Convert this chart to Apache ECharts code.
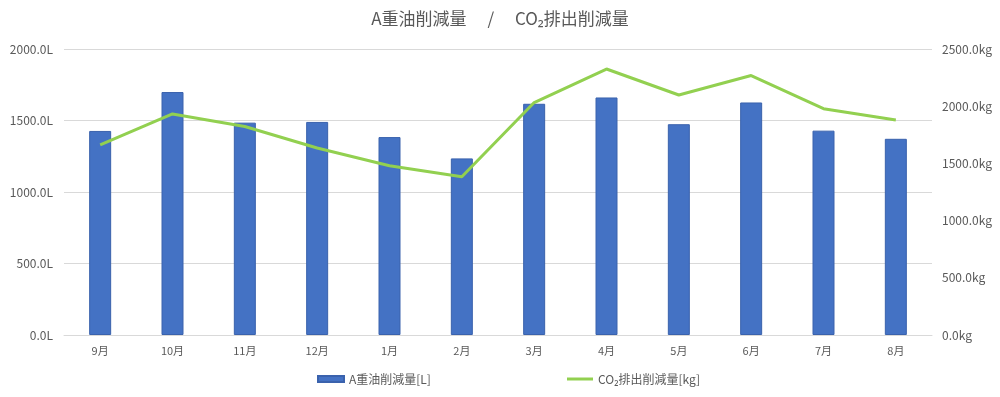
<!DOCTYPE html>
<html><head><meta charset="utf-8">
<script src="https://cdn.jsdelivr.net/npm/echarts@6/dist/echarts.min.js"></script>
<style>html,body{margin:0;padding:0;background:#fff}#c{width:1000px;height:397px}</style>
</head><body><div id="c"></div>
<script>
const categories = ['9月','10月','11月','12月','1月','2月','3月','4月','5月','6月','7月','8月'];
const oilValues = [1427, 1699, 1485, 1490, 1384, 1235, 1617, 1661, 1474, 1626, 1429, 1372];
const co2Values = [1661, 1932, 1823, 1635, 1480, 1383, 2032, 2325, 2098, 2268, 1978, 1879];
const oilName = 'A重油削減量[L]';
const co2Name = 'CO₂排出削減量[kg]';
const titleText = 'A重油削減量　 /　 CO₂排出削減量';
const font = '"Noto Sans CJK JP", "Noto Sans", sans-serif';
const chart = echarts.init(document.getElementById('c'));
chart.setOption({
  animation: false,
  textStyle: {fontFamily: font},
  title: {text: titleText, left: 'center', top: 5,
    textStyle: {fontFamily: font, fontSize: 17, fontWeight: 'normal', color: '#595959'}},
  legend: [
    {data: [oilName], left: 312, top: 368, itemWidth: 26, itemHeight: 6, icon: 'rect', itemGap: 2,
      textStyle: {fontFamily: font, fontSize: 12, color: '#595959'}},
    {data: [co2Name], left: 562, top: 368, itemWidth: 26, itemHeight: 3, icon: 'rect',
      textStyle: {fontFamily: font, fontSize: 12, color: '#595959'}}
  ],
  grid: {left: 64, right: 68, top: 49, bottom: 62},
  xAxis: {type: 'category', data: categories,
    axisLine: {show: true, lineStyle: {color: '#d9d9d9'}}, axisTick: {show: false},
    axisLabel: {color: '#595959', fontSize: 11, margin: 10, fontFamily: font}},
  yAxis: [
    {type: 'value', min: 0, max: 2000, interval: 500,
      axisLabel: {formatter: v => v.toFixed(1) + 'L', color: '#595959', fontSize: 12, margin: 11, fontFamily: font},
      splitLine: {lineStyle: {color: '#d9d9d9'}}, axisLine: {show: false}, axisTick: {show: false}},
    {type: 'value', min: 0, max: 2500, interval: 500,
      axisLabel: {formatter: v => v.toFixed(1) + 'kg', color: '#595959', fontSize: 12, margin: 10, fontFamily: font},
      splitLine: {show: false}, axisLine: {show: false}, axisTick: {show: false}}
  ],
  series: [
    {name: oilName, type: 'bar', data: oilValues, yAxisIndex: 0, barWidth: 22,
      itemStyle: {color: '#4472C4', borderColor: '#3a62ad', borderWidth: 1}},
    {name: co2Name, type: 'line', data: co2Values, yAxisIndex: 1, symbol: 'none',
      lineStyle: {color: '#92D050', width: 3}, itemStyle: {color: '#92D050'}}
  ]
});
</script></body></html>
